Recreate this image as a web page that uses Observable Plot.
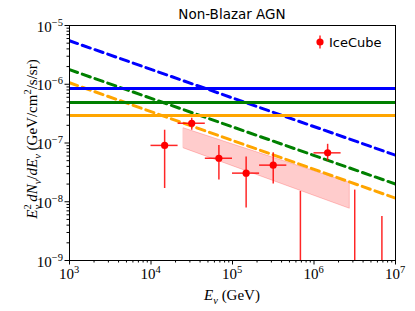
<!DOCTYPE html>
<html><head><meta charset="utf-8">
<script src="https://cdn.jsdelivr.net/npm/d3@7"></script>
<script src="https://cdn.jsdelivr.net/npm/@observablehq/plot@0.6"></script>
<style>body{margin:0;background:#fff} svg{display:block}</style>
</head><body><div id="chart"></div>
<script>
// IceCube data points (energy bins of 1/3 decade)
const icE    = [1.47e4, 3.16e4, 6.81e4, 1.47e5, 3.16e5, 1.47e6];
const icElo  = [1.0e4, 2.15e4, 4.64e4, 1.0e5, 2.15e5, 1.0e6];
const icEhi  = [2.15e4, 4.64e4, 1.0e5, 2.15e5, 4.64e5, 2.15e6];
const icFlux = [9.1e-8, 2.17e-7, 5.5e-8, 3.07e-8, 4.2e-8, 6.8e-8];
const icLo   = [1.68e-8, 1.65e-7, 2.34e-8, 7.8e-9, 2.0e-8, 4.9e-8];
const icHi   = [1.65e-7, 2.64e-7, 9.1e-8, 5.8e-8, 6.8e-8, 9.5e-8];
// IceCube bins with only an upper error (lower edge off-scale)
const ulE    = [6.81e5, 3.16e6, 6.81e6];
const ulHi   = [1.5e-8, 1.58e-8, 5.6e-9];
const ulLo   = [1e-9, 1e-9, 1e-9];
// IceCube fit band
const bandE  = [2.53e4, 2.75e6];
const bandHi = [1.78e-7, 2.1e-8];
const bandLo = [8.1e-8, 7.6e-9];
// Model curves (dashed) and flat limits (solid)
const modelE      = [1e3, 1e7];
const blueDash    = [5.5e-6, 6.2e-8];
const greenDash   = [1.77e-6, 2.0e-8];
const orangeDash  = [1.06e-6, 1.15e-8];
const flatLevels  = [8.5e-7, 4.9e-7, 2.94e-7];
const flatColors  = ["#0000ff", "#008000", "#ffa500"];
// Tick labels
const xMajor = [1e3, 1e4, 1e5, 1e6, 1e7];
const xExp   = ["3", "4", "5", "6", "7"];
const yMajor = [1e-9, 1e-8, 1e-7, 1e-6, 1e-5];
const yExp   = ["\u22129", "\u22128", "\u22127", "\u22126", "\u22125"];

const xMinor = [], yMinor = [];
for (let d = 3; d < 7; d++) for (let m = 2; m < 10; m++) xMinor.push(m * 10 ** d);
for (let d = -9; d < -5; d++) for (let m = 2; m < 10; m++) yMinor.push(m * 10 ** d);

const pts = icE.map((e, i) => ({e, lo: icElo[i], hi: icEhi[i], f: icFlux[i], fl: icLo[i], fh: icHi[i]}));
const uls = ulE.map((e, i) => ({e, lo: ulLo[i], hi: ulHi[i]}));
const band = bandE.map((e, i) => ({e, lo: bandLo[i], hi: bandHi[i]}));
const lineData = (vals, c) => modelE.map((e, i) => ({e, v: vals[i], c}));

const red = "#ff0000";
const dash = {strokeWidth: 3, strokeDasharray: "8.5,5", clip: true};
const chart = Plot.plot({
  width: 415, height: 311,
  marginTop: 25, marginLeft: 69, marginRight: 20, marginBottom: 51,
  style: {background: "white", overflow: "visible"},
  x: {type: "log", domain: [1e3, 1e7]},
  y: {type: "log", domain: [1e-9, 1e-5]},
  marks: [
    Plot.areaY(band, {x: "e", y1: "lo", y2: "hi", fill: "red", fillOpacity: 0.2, stroke: "red", strokeOpacity: 0.2, strokeWidth: 1}),
    Plot.line(lineData(blueDash, "b"), {x: "e", y: "v", stroke: "#0000ff", ...dash}),
    Plot.line(lineData(greenDash, "g"), {x: "e", y: "v", stroke: "#008000", ...dash}),
    Plot.line(lineData(orangeDash, "o"), {x: "e", y: "v", stroke: "#ffa500", ...dash}),
    Plot.ruleY(flatLevels, {y: d => d, stroke: (d, i) => flatColors[i], strokeWidth: 3}),
    Plot.ruleX(uls, {x: "e", y1: "lo", y2: "hi", stroke: red, strokeWidth: 1.5, strokeOpacity: 0.85}),
    Plot.ruleY(pts, {y: "f", x1: "lo", x2: "hi", stroke: red, strokeWidth: 1.5, strokeOpacity: 0.85}),
    Plot.ruleX(pts, {x: "e", y1: "fl", y2: "fh", stroke: red, strokeWidth: 1.5, strokeOpacity: 0.85}),
    Plot.dot(pts, {x: "e", y: "f", r: 3.6, fill: red, stroke: "none"}),
    Plot.frame({stroke: "black", strokeWidth: 1}),
    Plot.axisX({ticks: xMajor, tickSize: 4.5, tickFormat: () => "", label: null, stroke: "black", strokeOpacity: 1}),
    Plot.axisX({ticks: xMinor, tickSize: 2.5, tickFormat: () => "", label: null, stroke: "black", strokeOpacity: 1}),
    Plot.axisY({ticks: yMajor, tickSize: 4.5, tickFormat: () => "", label: null, stroke: "black", strokeOpacity: 1}),
    Plot.axisY({ticks: yMinor, tickSize: 2.5, tickFormat: () => "", label: null, stroke: "black", strokeOpacity: 1})
  ]
});
document.getElementById("chart").appendChild(chart);

const sx = chart.scale("x"), sy = chart.scale("y");
const svg = d3.select(chart);
const serif = "'Liberation Serif', 'DejaVu Serif', serif";
const sans = "'DejaVu Sans', sans-serif";
const g = svg.append("g").attr("fill", "black");

// x tick labels
xMajor.forEach((v, i) => {
  const t = g.append("text").attr("x", sx.apply(v)).attr("y", 279)
    .attr("text-anchor", "middle").attr("font-family", serif).attr("font-size", 15);
  t.append("tspan").text("10");
  t.append("tspan").attr("dy", -6).attr("font-size", 10.5).text(xExp[i]);
});
// y tick labels
yMajor.forEach((v, i) => {
  const t = g.append("text").attr("x", 63).attr("y", sy.apply(v) + 6.5)
    .attr("text-anchor", "end").attr("font-family", serif).attr("font-size", 15);
  t.append("tspan").text("10");
  t.append("tspan").attr("dy", -6).attr("font-size", 10.5).text(yExp[i]);
});

// x axis label
{
  const t = g.append("text").attr("x", 232).attr("y", 300)
    .attr("text-anchor", "middle").attr("font-family", serif).attr("font-size", 15);
  t.append("tspan").attr("font-style", "italic").text("E");
  t.append("tspan").attr("font-style", "italic").attr("dy", 3.5).attr("font-size", 10.5).text("\u03bd");
  t.append("tspan").attr("dy", -3.5).text(" (GeV)");
}
// y axis label
{
  const t = g.append("text").attr("transform", "translate(37,139) rotate(-90)")
    .attr("text-anchor", "middle").attr("font-family", serif).attr("font-size", 15);
  t.append("tspan").attr("font-style", "italic").text("E");
  t.append("tspan").attr("dy", -6).attr("font-size", 10.5).text("2");
  t.append("tspan").attr("font-style", "italic").attr("dx", -5.3).attr("dy", 10).attr("font-size", 10.5).text("\u03bd");
  t.append("tspan").attr("font-style", "italic").attr("dx", 3).attr("dy", -4).text("dN");
  t.append("tspan").attr("font-style", "italic").attr("dy", 3.5).attr("font-size", 10.5).text("\u03bd");
  t.append("tspan").attr("dy", -3.5).text("/");
  t.append("tspan").attr("font-style", "italic").text("dE");
  t.append("tspan").attr("font-style", "italic").attr("dy", 3.5).attr("font-size", 10.5).text("\u03bd");
  t.append("tspan").attr("dy", -3.5).text(" (GeV/cm");
  t.append("tspan").attr("dy", -6).attr("font-size", 10.5).text("2");
  t.append("tspan").attr("dy", 6).text("/s/sr)");
}
// title
g.append("text").attr("x", 232).attr("y", 19).attr("text-anchor", "middle")
  .attr("font-family", sans).attr("font-size", 13.5).text("Non-Blazar AGN");
// legend
{
  const lg = g.append("g");
  lg.append("line").attr("x1", 320).attr("x2", 320).attr("y1", 35.5).attr("y2", 48.5)
    .attr("stroke", red).attr("stroke-width", 1.5).attr("stroke-opacity", 0.85);
  lg.append("circle").attr("cx", 320).attr("cy", 42).attr("r", 3.6).attr("fill", red);
  lg.append("text").attr("x", 329).attr("y", 46.5).attr("text-anchor", "start")
    .attr("font-family", sans).attr("font-size", 13).text("IceCube");
}
</script>
</body></html>
